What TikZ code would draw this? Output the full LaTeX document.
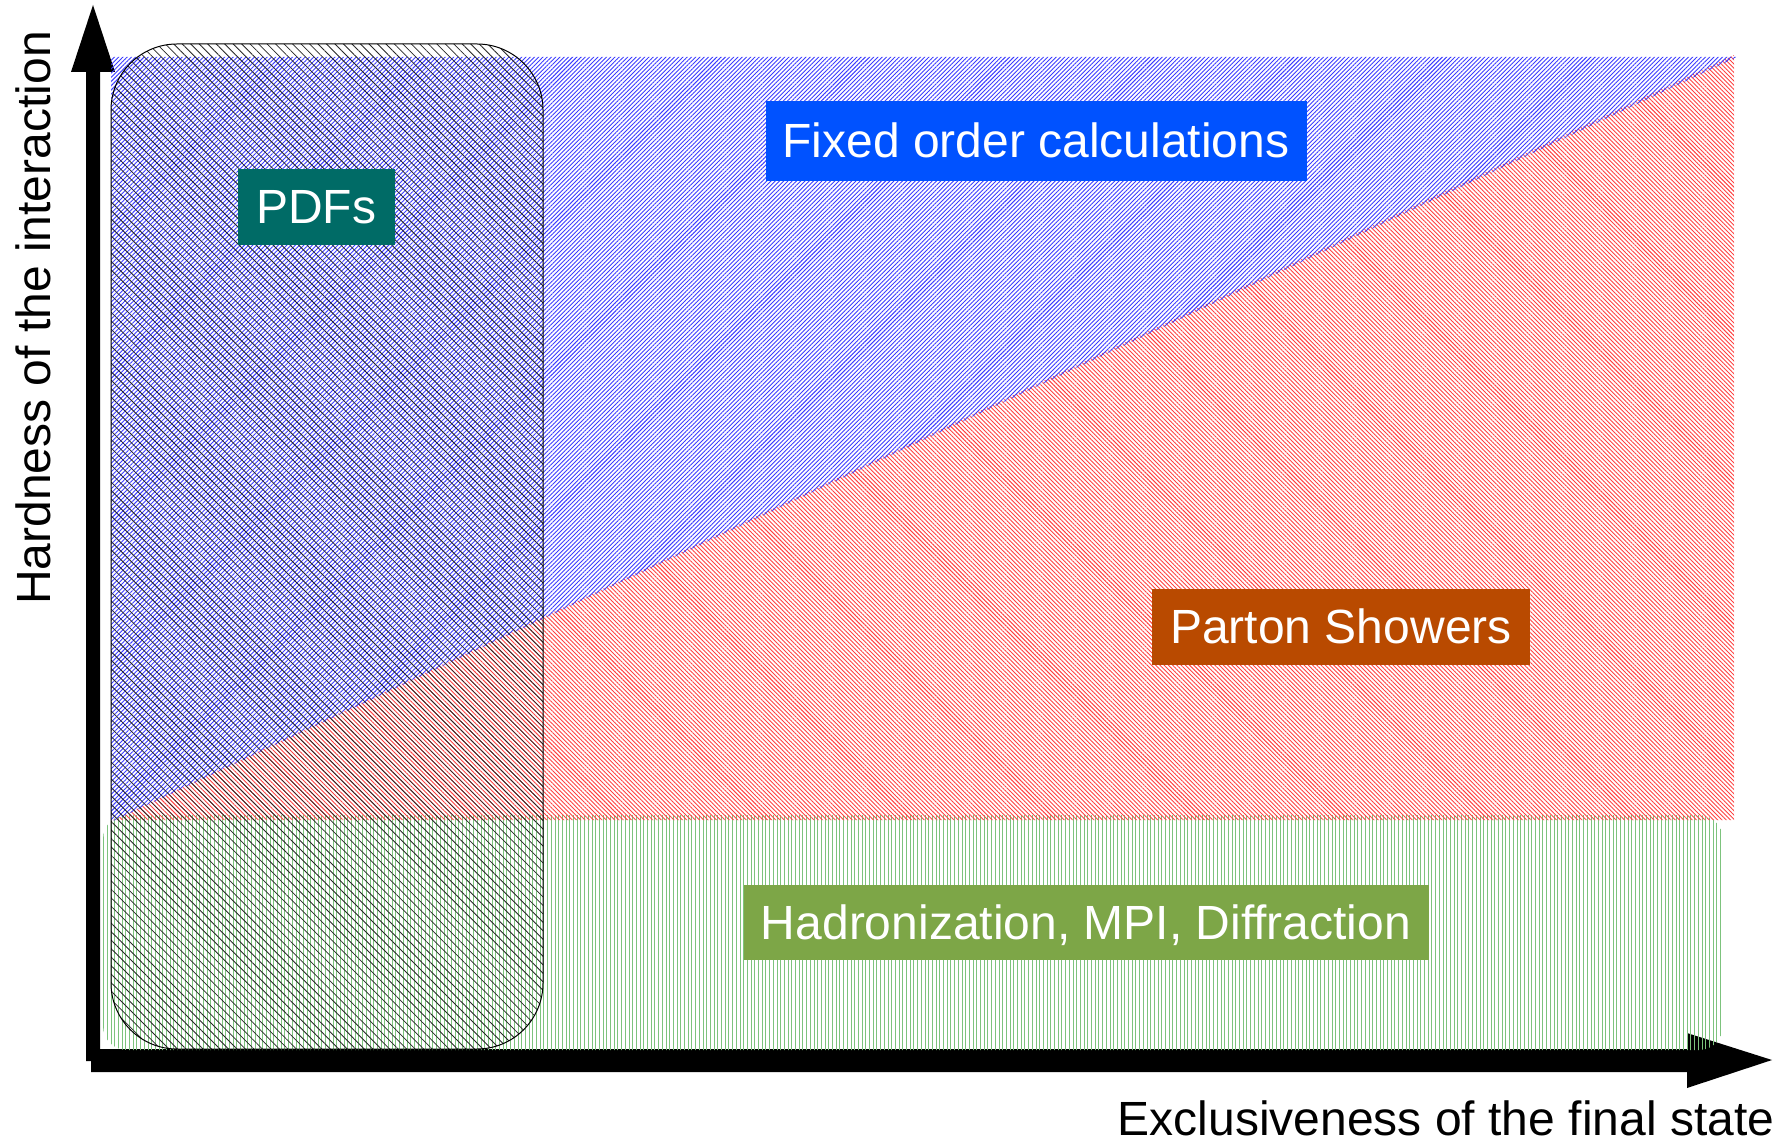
\documentclass[tikz,border=0pt]{standalone}
\usepackage{fontspec}
\setmainfont{Liberation Sans}
\usetikzlibrary{patterns.meta}
\definecolor{hatchblue}{RGB}{60,60,255}
\definecolor{hatchred}{RGB}{255,65,65}
\definecolor{hatchgreen}{RGB}{125,195,125}
\definecolor{boxblue}{RGB}{0,82,255}
\definecolor{boxteal}{RGB}{0,107,102}
\definecolor{boxorange}{RGB}{185,74,0}
\definecolor{boxgreen}{RGB}{125,166,71}
\tikzset{
  labelbox/.style={inner sep=0pt, text=white, font=\fontsize{24}{28}\selectfont,
    text height=17pt, text depth=0pt, align=center},
  axislabel/.style={inner sep=0pt, text=black, font=\fontsize{24}{28}\selectfont},
  axisfill/.style={fill=black, draw=none}
}
\begin{document}
\begin{tikzpicture}[x=0.5pt,y=-0.5pt]
\useasboundingbox (0,0) rectangle (1792,1143);
% axes
\fill[axisfill] (86,1061) -- (86,72) -- (71,72) -- (93,5) -- (115,72) -- (100,72) -- (100,1061) -- cycle;
\fill[axisfill] (91,1049) -- (1687,1049) -- (1687,1033) -- (1772,1060) -- (1687,1088) -- (1687,1072) -- (91,1072) -- cycle;
% green region
\path[pattern={Lines[angle=90,distance=1.85pt,line width=0.45pt]}, pattern color=hatchgreen, rounded corners=12pt]
  (103,815) rectangle (1723,1050);
% red region
\path[pattern={Lines[angle=-45,distance=1.5pt,line width=0.45pt]}, pattern color=hatchred]
  (111,821) -- (1734,55) -- (1734,820) -- (111,820) -- cycle;
% blue region
\path[pattern={Lines[angle=45,distance=1.5pt,line width=0.45pt]}, pattern color=hatchblue]
  (111,57) -- (1737,57) -- (111,822) -- cycle;
% PDFs region
\draw[line width=0.5pt, black, rounded corners=33pt,
  pattern={Lines[angle=-45,distance=3pt,line width=0.4pt]}, pattern color=black!85]
  (111,44) rectangle (543,1049);
% labels
\node[labelbox, fill=boxblue, minimum width=270.5pt, minimum height=40pt] (fixed) at (1036,141) {Fixed order calculations};
\node[labelbox, fill=boxteal, minimum width=78.5pt, minimum height=38pt] (pdfs) at (316,207) {PDFs};
\node[labelbox, fill=boxorange, minimum width=189pt, minimum height=38pt] (ps) at (1341,627) {Parton Showers};
\node[labelbox, fill=boxgreen, minimum width=342.5pt, minimum height=37.5pt] (had) at (1086,922) {Hadronization, MPI, Diffraction};
\node[axislabel, rotate=90, anchor=base] (ylab) at (50,318) {Hardness of the interaction};
\node[axislabel, anchor=base] (xlab) at (1446,1135) {Exclusiveness of the final state};
\end{tikzpicture}
\end{document}
